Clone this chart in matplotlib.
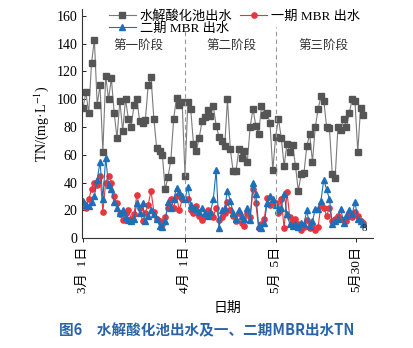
import matplotlib
matplotlib.use("Agg")
import matplotlib.pyplot as plt

plt.rcParams['font.family'] = ['Liberation Serif', 'Noto Sans CJK SC']
plt.rcParams['mathtext.fontset'] = 'stix'

# hydrolysis-acidification tank effluent TN
gray_tn = [94, 105, 90, 126, 143, 96, 110, 62, 117, 100,
           115, 90, 72, 99, 77, 100, 86, 80, 96, 100,
           84, 83, 85, 110, 116, 86, 65, 63, 60, 35,
           44, 56, 86, 101, 96, 98, 45, 98, 93, 68,
           63, 72, 84, 87, 92, 88, 95, 81, 73, 70,
           66, 100, 64, 48, 48, 64, 58, 63, 55, 80,
           93, 81, 75, 95, 89, 90, 83, 49, 73, 86,
           72, 52, 68, 62, 67, 52, 34, 46, 47, 66,
           75, 55, 80, 93, 102, 99, 80, 79, 46, 43,
           80, 78, 86, 80, 90, 100, 99, 62, 94, 89]
# phase I MBR effluent
red_tn = [25, 22, 28, 35, 40, 38, 45, 19, 40, 45,
          40, 30, 25, 17, 13, 18, 20, 14, 17, 31,
          22, 12, 18, 24, 34, 19, 14, 12, 10, 15,
          22, 28, 22, 30, 20, 28, 28, 28, 20, 18,
          23, 16, 13, 16, 20, 18, 15, 22, 13, 15,
          18, 26, 20, 16, 12, 18, 11, 9, 18, 15,
          35, 25, 7, 10, 14, 29, 24, 26, 25, 18,
          28, 7, 33, 15, 12, 14, 10, 6, 8, 13,
          7, 9, 6, 8, 24, 22, 16, 22, 12, 14,
          16, 14, 13, 12, 18, 15, 19, 16, 12, 11]
# phase II MBR effluent
blue_tn = [27, 24, 23, 26, 30, 42, 55, 28, 58, 38,
           35, 26, 22, 18, 20, 15, 13, 12, 14, 25,
           18, 25, 12, 16, 20, 17, 14, 9, 8, 12,
           26, 22, 28, 36, 33, 30, 28, 37, 24, 22,
           21, 19, 22, 18, 16, 19, 28, 49, 7, 20,
           22, 34, 27, 18, 14, 20, 16, 14, 22, 13,
           40, 32, 9, 7, 11, 25, 30, 28, 24, 20,
           22, 32, 17, 10, 9, 10, 8, 11, 10, 20,
           9, 12, 21, 21, 27, 42, 35, 28, 10, 12,
           14, 21, 11, 16, 20, 17, 26, 14, 12, 10]

x = list(range(len(gray_tn)))
tick_pos = [0, 36, 68, 96.5]
tick_labels = ['3月  1日', '4月  1日', '5月  5日', '5月30日']
stage_split = [36, 68]
stage_names = ['第一阶段', '第二阶段', '第三阶段']
stage_x = [19.5, 52.5, 85]

fig = plt.figure(figsize=(4.13, 3.48), dpi=100)
ax = fig.add_axes([0.199, 0.316, 0.705, 0.658])

l1, = ax.plot(x, gray_tn, color='#7a7a7a', lw=0.8, marker='s', ms=3.8,
              mfc='#555555', mec='#555555', label='水解酸化池出水')
l2, = ax.plot(x, red_tn, color='#e8363f', lw=0.8, marker='o', ms=3.8,
              mfc='#e8363f', mec='#e8363f', label='一期 MBR 出水')
l3, = ax.plot(x, blue_tn, color='#1f6fb8', lw=0.8, marker='^', ms=4.0,
              mfc='#1f6fb8', mec='#1f6fb8', label='二期 MBR 出水')

ax.vlines(stage_split, 0, 152, colors='#999999', linestyles=(0, (4, 3)), lw=0.8)
for sx, name in zip(stage_x, stage_names):
    ax.text(sx, 138, name, ha='center', va='center', fontsize=9, color='#333333')
ax.text(99.3, 7, '8', ha='center', va='center', fontsize=8, color='#222222')

ax.set_xlim(-0.3, 102.5)
ax.set_ylim(0, 165)
ax.set_yticks(range(0, 161, 20))
ax.set_xticks(tick_pos)
ax.set_xticklabels(tick_labels, rotation=90, fontsize=9.5)
ax.tick_params(axis='y', direction='in', labelsize=10, length=3, width=0.6)
ax.tick_params(axis='x', direction='out', length=3, width=0.6, pad=3)
for s in ['top', 'right']:
    ax.spines[s].set_visible(False)
for s in ['left', 'bottom']:
    ax.spines[s].set_linewidth(0.8)
    ax.spines[s].set_color('#333333')

ax.set_ylabel('TN/(mg·L$^{-1}$)', fontsize=10, labelpad=4)
ax.set_xlabel('日期', fontsize=10, labelpad=6)

ax.legend([l1, l3, l2], [l1.get_label(), l3.get_label(), l2.get_label()],
          ncol=2, loc='upper left', bbox_to_anchor=(0.075, 1.02), frameon=False,
          fontsize=9.5, handlelength=2.0, columnspacing=0.6, labelspacing=0.0,
          handletextpad=0.3, borderaxespad=0)

fig.text(0.5, 0.05, '图6　水解酸化池出水及一、二期MBR出水TN', ha='center', va='center',
         fontsize=10.5, color='#2a64a8', family=['Noto Sans CJK SC'], weight='bold')

fig.savefig('out.png', dpi=100)
